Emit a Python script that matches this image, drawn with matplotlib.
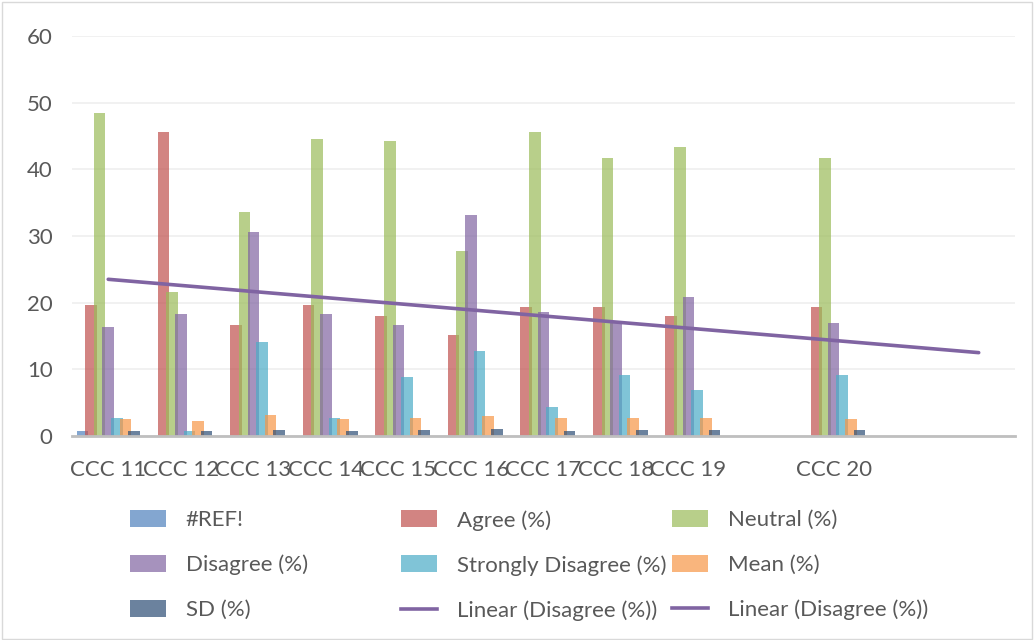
import matplotlib
matplotlib.use("Agg")
import matplotlib.pyplot as plt
import numpy as np
from matplotlib.patches import Patch, Rectangle
from matplotlib.lines import Line2D

plt.rcParams['font.family'] = ['Lato', 'DejaVu Sans']

categories = ["CCC 11", "CCC 12", "CCC 13", "CCC 14", "CCC 15", "CCC 16",
              "CCC 17", "CCC 18", "CCC 19", "", "CCC 20", "", ""]
nan = np.nan

ref_vals = [0.8, 0, 0, 0, 0, 0, 0, 0, 0, nan, 0, nan, nan]
agree = [19.65, 45.65, 16.7, 19.65, 18.0, 15.15, 19.3, 19.3, 18.0, nan, 19.3, nan, nan]
neutral = [48.5, 21.65, 33.6, 44.6, 44.3, 27.7, 45.65, 41.75, 43.3, nan, 41.75, nan, nan]
disagree = [16.4, 18.35, 30.65, 18.35, 16.7, 33.2, 18.65, 17.05, 20.9, nan, 17.0, nan, nan]
strongly = [2.75, 0.8, 14.15, 2.75, 8.9, 12.8, 4.3, 9.2, 6.9, nan, 9.2, nan, nan]
mean = [2.6, 2.3, 3.2, 2.6, 2.75, 3.05, 2.7, 2.7, 2.75, nan, 2.6, nan, nan]
sd = [0.8, 0.8, 0.9, 0.8, 0.95, 1.05, 0.8, 0.9, 0.9, nan, 0.9, nan, nan]

# trend line ends (first and last category slot)
trend_start = 23.5
trend_end = 12.5

series = [
    ("#REF!", ref_vals, "#4F81BD"),
    ("Agree (%)", agree, "#C0504D"),
    ("Neutral (%)", neutral, "#9BBB59"),
    ("Disagree (%)", disagree, "#8064A2"),
    ("Strongly Disagree (%)", strongly, "#4BACC6"),
    ("Mean (%)", mean, "#F79646"),
    ("SD (%)", sd, "#2C4D75"),
]
trend_color = "#8064A2"
text_color = "#595959"
fs = 16

fig = plt.figure(figsize=(10.34, 6.40), dpi=100)
ax = fig.add_axes([0.0696, 0.3188, 0.912, 0.625])

x = np.arange(len(categories))
step = 0.119
width = 0.16
for i, (name, vals, col) in enumerate(series):
    ax.bar(x + (i - 3) * step, vals, width=width, color=col, alpha=0.7,
           linewidth=0, zorder=2)

ax.plot([x[0], x[-1]], [trend_start, trend_end], color=trend_color, lw=2.6,
        solid_capstyle='round', zorder=3)

ax.set_xlim(-0.5, len(categories) - 0.5)
ax.set_ylim(0, 60)
ax.set_yticks(np.arange(0, 61, 10))
ax.set_xticks(x)
ax.set_xticklabels(categories)
ax.grid(axis='y', color='#EFEFEF', lw=1.2, zorder=0)
ax.set_axisbelow(True)
for s in ['left', 'right', 'top']:
    ax.spines[s].set_visible(False)
ax.spines['bottom'].set_color('#BFBFBF')
ax.spines['bottom'].set_linewidth(2)
ax.tick_params(axis='both', length=0, labelsize=fs, colors=text_color)
ax.tick_params(axis='x', pad=17)
ax.tick_params(axis='y', pad=14)

handles = [Patch(facecolor=c, alpha=0.7, edgecolor='none') for _, _, c in series]
labels = [n for n, _, _ in series]
handles += [Line2D([], [], color=trend_color, lw=2.6)] * 2
labels += ["Linear (Disagree (%))"] * 2

col_x = [130, 401, 672]
for c in range(3):
    idx = [c, c + 3, c + 6]
    leg = fig.legend([handles[k] for k in idx], [labels[k] for k in idx],
                     loc='upper left', bbox_to_anchor=(col_x[c] / 1034, 1 - 510 / 640),
                     frameon=False, fontsize=fs, borderpad=0, borderaxespad=0,
                     handlelength=1.6, handleheight=0.8, handletextpad=0.9,
                     labelspacing=1.1)
    for t in leg.get_texts():
        t.set_color(text_color)

fig.patches.append(Rectangle((0.002, 0.002), 0.996, 0.995, transform=fig.transFigure,
                             fill=False, edgecolor='#D9D9D9', lw=1))

fig.savefig("out.png", dpi=100)
